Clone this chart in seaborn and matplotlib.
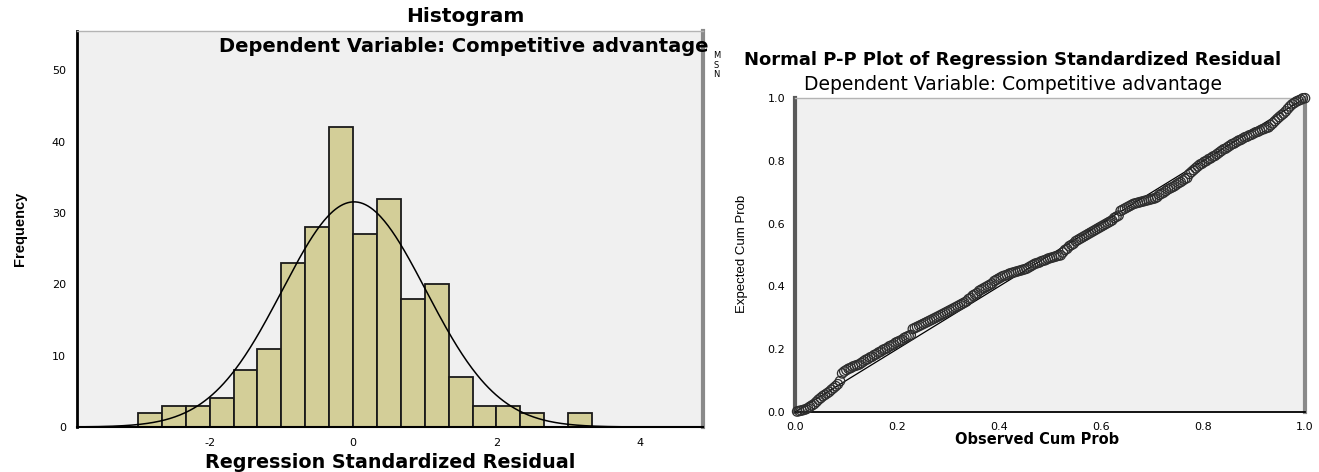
import math
import numpy as np
import pandas as pd
import matplotlib
matplotlib.use("Agg")
import matplotlib.pyplot as plt
import seaborn as sns

# Regression standardized residuals (sorted), N = 238
resid_lower_tail = [-2.95, -2.72, -2.60, -2.48, -2.38, -2.25, -2.12, -2.03,
                    -1.95, -1.85, -1.76, -1.70,
                    -1.64, -1.60, -1.56, -1.52, -1.47, -1.43, -1.39, -1.35,
                    -1.29, -1.16, -1.13, -1.11, -1.09, -1.08, -1.06, -1.05, -1.04, -1.03, -1.01]
resid_lower_mid = [-0.99, -0.97, -0.96, -0.94, -0.93, -0.91, -0.90, -0.88, -0.87, -0.85,
                   -0.84, -0.83, -0.81, -0.80, -0.79, -0.77, -0.76, -0.75, -0.74, -0.72,
                   -0.71, -0.70, -0.69,
                   -0.63, -0.62, -0.61, -0.60, -0.59, -0.58, -0.57, -0.56, -0.55, -0.54,
                   -0.53, -0.52, -0.51, -0.50, -0.49, -0.48, -0.47, -0.46, -0.45, -0.44,
                   -0.43, -0.42, -0.41, -0.40, -0.39, -0.38, -0.36, -0.35]
resid_center_left = [-0.33, -0.32, -0.31, -0.29, -0.28, -0.27, -0.26, -0.25, -0.24, -0.23,
                     -0.21, -0.20, -0.19, -0.18, -0.17, -0.165, -0.16, -0.15,
                     -0.145, -0.14, -0.135, -0.13, -0.125, -0.12, -0.115,
                     -0.11, -0.10, -0.09, -0.08, -0.07, -0.065, -0.06, -0.05, -0.045,
                     -0.04, -0.03, -0.025, -0.02, -0.015, -0.01, -0.005, -0.002]
resid_center_right = [0.02, 0.04, 0.05, 0.07, 0.08, 0.09, 0.11, 0.12, 0.13, 0.14,
                      0.15, 0.16, 0.17, 0.18, 0.19, 0.20, 0.21, 0.22, 0.23, 0.24,
                      0.25, 0.26, 0.27, 0.28, 0.30, 0.31, 0.32,
                      0.36, 0.37, 0.38, 0.39, 0.40, 0.41,
                      0.42, 0.425, 0.43, 0.435, 0.44, 0.445, 0.45, 0.455, 0.46, 0.465, 0.47, 0.48,
                      0.50, 0.51, 0.52, 0.535, 0.55, 0.56, 0.57, 0.58, 0.595, 0.61, 0.62,
                      0.635, 0.65, 0.66]
resid_upper_mid = [0.70, 0.72, 0.74, 0.76, 0.78, 0.80, 0.81, 0.83, 0.84, 0.86,
                   0.87, 0.89, 0.90, 0.92, 0.94, 0.96, 0.98, 0.99,
                   1.01, 1.03, 1.05, 1.06, 1.08, 1.10, 1.11, 1.13, 1.15, 1.16,
                   1.18, 1.19, 1.21, 1.23, 1.24, 1.26, 1.28, 1.29, 1.31, 1.32]
resid_upper_tail = [1.36, 1.40, 1.45, 1.50, 1.55, 1.60, 1.65,
                    1.72, 1.82, 1.93, 2.05, 2.15, 2.28, 2.40, 2.55, 3.05, 3.20]

hist_xticks = [-2, 0, 2, 4]
hist_yticks = [0, 10, 20, 30, 40, 50]
pp_ticks = [0.0, 0.2, 0.4, 0.6, 0.8, 1.0]
pp_ticklabels = ["0.0", "0.2", "0.4", "0.6", "0.8", "1.0"]

dep_title = "Dependent Variable: Competitive advantage"
stats_initials = "M\nS\nN"   # edge of the Mean / Std. Dev. / N box

resid = np.sort(np.array(resid_lower_tail + resid_lower_mid + resid_center_left
                         + resid_center_right + resid_upper_mid + resid_upper_tail))
n = len(resid)
mean = resid.mean()
sd = resid.std(ddof=1)

BAR = "#D3CE98"
PANEL = "#F0F0F0"
W, H = 1319, 472

sns.set_style("white")
plt.rcParams["font.family"] = ["DejaVu Sans"]
plt.rcParams.update({"text.color": "black", "axes.labelcolor": "black",
                     "xtick.color": "black", "ytick.color": "black"})

fig = plt.figure(figsize=(W / 100, H / 100), dpi=100)
fig.patch.set_facecolor("white")


def px_axes(left, top, right, bottom):
    return fig.add_axes([left / W, 1 - bottom / H, (right - left) / W, (bottom - top) / H])


def fig_text(x, y, s, **kw):
    kw.setdefault("ha", "center")
    return fig.text(x / W, 1 - y / H, s, va="center", **kw)


# ---------------- Histogram ----------------
ax1 = px_axes(77, 31, 703, 427)
ax1.set_facecolor(PANEL)
bin_w = 1 / 3
edges = -3 + bin_w * np.arange(20)
sns.histplot(x=resid, bins=edges, ax=ax1, color=BAR, edgecolor="#1a1a1a",
             linewidth=1.3, alpha=1.0, zorder=2)
ax1.set_xlim(-3.85, 4.88)
ax1.set_ylim(0, 55.5)

xs = np.linspace(-3.85, 4.88, 500)
pdf = np.exp(-0.5 * ((xs - mean) / sd) ** 2) / (sd * math.sqrt(2 * math.pi))
ax1.plot(xs, n * bin_w * pdf, color="black", lw=1.1, zorder=3)

ax1.set_xticks(hist_xticks)
ax1.set_xticklabels([str(t) for t in hist_xticks])
ax1.set_yticks(hist_yticks)
ax1.set_yticklabels([str(t) for t in hist_yticks])
ax1.tick_params(axis="both", direction="out", length=6, width=1, labelsize=8,
                color="black", labelcolor="black", pad=2)
ax1.set_xlabel("")
ax1.set_ylabel("")
ax1.spines["left"].set(color="black", linewidth=2)
ax1.spines["bottom"].set(color="black", linewidth=1.5)
ax1.spines["right"].set(color="#8a8a8a", linewidth=3)
ax1.spines["top"].set(color="#b4b4b4", linewidth=1)
for s in ax1.spines.values():
    s.set_visible(True)

fig_text(465, 17, "Histogram", fontsize=14.5, fontweight="bold")
fig_text(464, 47, dep_title, fontsize=14, fontweight="bold", zorder=5)
fig_text(20, 229, "Frequency", fontsize=10.5, fontweight="bold", rotation=90,
         family=["Liberation Sans", "DejaVu Sans"])
fig_text(390, 463, "Regression Standardized Residual", fontsize=13.8, fontweight="bold")
fig_text(713, 65, stats_initials, fontsize=6, ha="left", linespacing=1.05)

# ---------------- Normal P-P plot ----------------
ax2 = px_axes(795, 98, 1305, 412)
ax2.set_facecolor(PANEL)
observed = np.arange(1, n + 1) / n
expected = np.array([0.5 * (1 + math.erf(z / math.sqrt(2))) for z in resid])
pp = pd.DataFrame({"Observed Cum Prob": observed, "Expected Cum Prob": expected})
ax2.axline((0, 0), (1, 1), color="black", lw=0.9, zorder=2)
sns.scatterplot(data=pp, x="Observed Cum Prob", y="Expected Cum Prob", ax=ax2,
                marker="o", s=46, facecolor="none", edgecolor="#2e2e2e",
                linewidth=0.9, zorder=3, clip_on=False)
ax2.set_xlim(0, 1)
ax2.set_ylim(0, 1)
ax2.set_xticks(pp_ticks)
ax2.set_xticklabels(pp_ticklabels)
ax2.set_yticks(pp_ticks)
ax2.set_yticklabels(pp_ticklabels)
ax2.tick_params(axis="both", direction="out", length=5, width=1, labelsize=8,
                color="black", labelcolor="black", pad=2)
ax2.set_xlabel("")
ax2.set_ylabel("")
ax2.spines["left"].set(color="#5a5a5a", linewidth=3)
ax2.spines["bottom"].set(color="black", linewidth=1.3)
ax2.spines["right"].set(color="#8a8a8a", linewidth=3)
ax2.spines["top"].set(color="#b4b4b4", linewidth=1)
for s in ax2.spines.values():
    s.set_visible(True)

fig_text(1013, 60, "Normal P-P Plot of Regression Standardized Residual",
         fontsize=13, fontweight="bold")
fig_text(1013, 85, dep_title, fontsize=13.5)
fig_text(742, 254, "Expected Cum Prob", fontsize=9.5, rotation=90,
         family=["Liberation Sans", "DejaVu Sans"])
fig_text(1037, 440, "Observed Cum Prob", fontsize=10.5, fontweight="bold")

fig.savefig("out.png", dpi=100, facecolor="white")
